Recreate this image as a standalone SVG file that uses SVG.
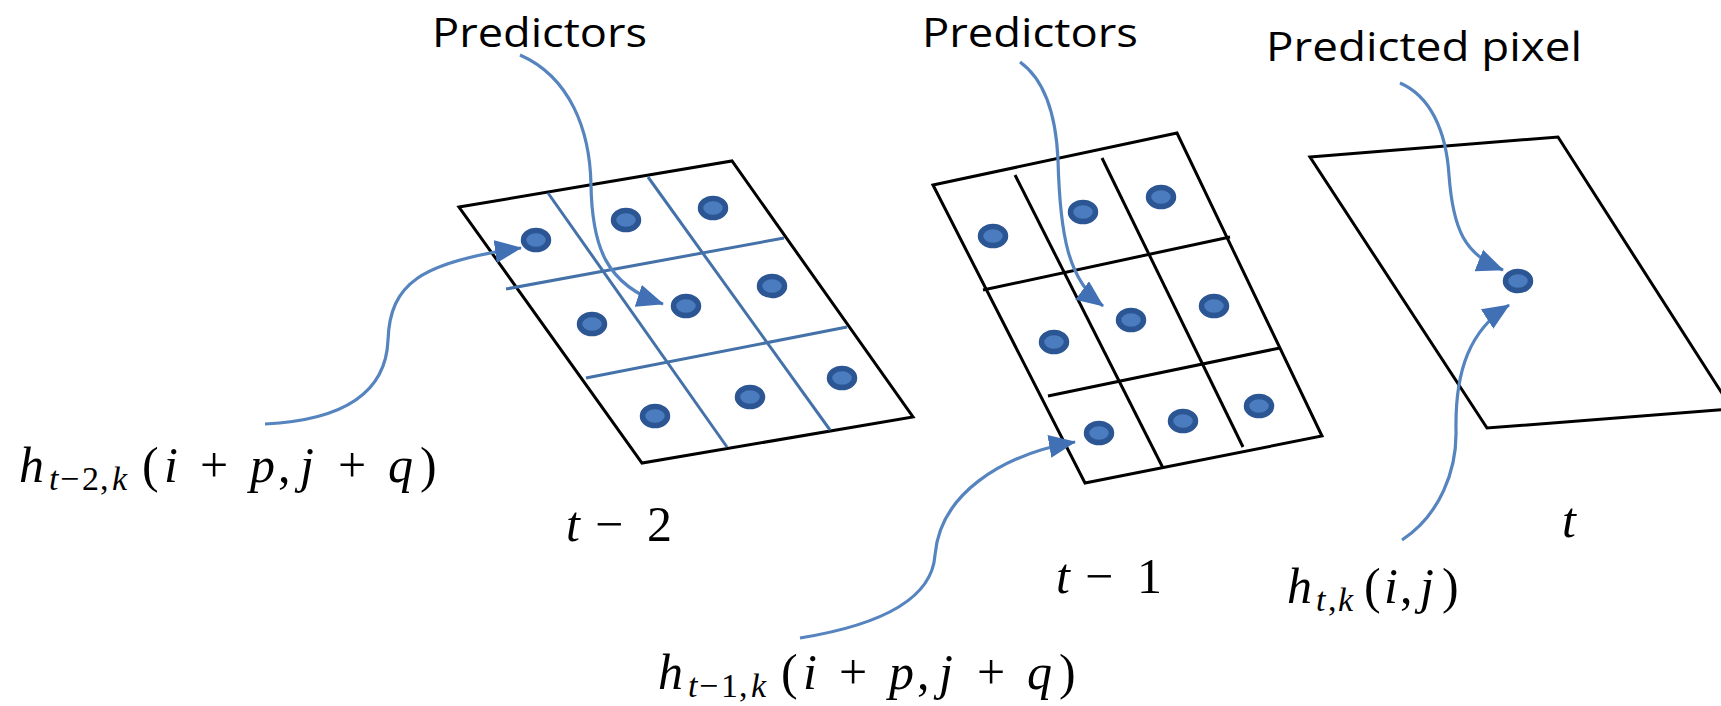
<svg xmlns="http://www.w3.org/2000/svg" width="1721" height="706" viewBox="0 0 1721 706">
<style>
.plane{fill:none;stroke:#000;stroke-width:3;stroke-linejoin:miter}
.gb{stroke:#4472A8;stroke-width:3;fill:none}
.gk{stroke:#000;stroke-width:3;fill:none}
.dot{fill:#4A7CBF;stroke:#2C5693;stroke-width:5.5}
.arr{fill:none;stroke:#5584BE;stroke-width:3.2;marker-end:url(#ah)}
.lbl{font-family:"Open Sans","Noto Sans",sans-serif;font-size:40px;fill:#000}
.m{font-family:"Liberation Serif",serif;font-size:50px;fill:#000}
.i{font-style:italic}
.s{font-size:34px}
</style>
<defs>
<marker id="ah" markerWidth="27" markerHeight="23" refX="26" refY="11.5" orient="auto" markerUnits="userSpaceOnUse">
<path d="M0,0 L27,11.5 L0,23 Z" fill="#4170B4"/>
</marker>
</defs>
<rect width="1721" height="706" fill="#fff"/>

<g id="plane-t-2">
<polygon class="plane" points="459,207 732,161 913,417 642,463"/>
<line class="gb" x1="548" y1="193" x2="727" y2="447"/>
<line class="gb" x1="648" y1="177" x2="830" y2="430"/>
<line class="gb" x1="506" y1="289" x2="784" y2="238"/>
<line class="gb" x1="586" y1="378" x2="847" y2="327"/>
<ellipse class="dot" cx="536" cy="240" rx="12.5" ry="9.5"/>
<ellipse class="dot" cx="626" cy="220" rx="12.5" ry="9.5"/>
<ellipse class="dot" cx="713" cy="208" rx="12.5" ry="9.5"/>
<ellipse class="dot" cx="592" cy="324" rx="12.5" ry="9.5"/>
<ellipse class="dot" cx="686" cy="306" rx="12.5" ry="9.5"/>
<ellipse class="dot" cx="772" cy="286" rx="12.5" ry="9.5"/>
<ellipse class="dot" cx="655" cy="416" rx="12.5" ry="9.5"/>
<ellipse class="dot" cx="750" cy="397" rx="12.5" ry="9.5"/>
<ellipse class="dot" cx="842" cy="378" rx="12.5" ry="9.5"/>
</g>

<g id="plane-t-1">
<polygon class="plane" points="933,185 1177,133 1322,436 1085,483"/>
<line class="gk" x1="1015" y1="175" x2="1163" y2="468"/>
<line class="gk" x1="1102" y1="158" x2="1243" y2="447"/>
<line class="gk" x1="983" y1="290" x2="1230" y2="237"/>
<line class="gk" x1="1048" y1="396" x2="1280" y2="348"/>
<ellipse class="dot" cx="993" cy="236" rx="12.5" ry="9.5"/>
<ellipse class="dot" cx="1083" cy="212" rx="12.5" ry="9.5"/>
<ellipse class="dot" cx="1161" cy="197" rx="12.5" ry="9.5"/>
<ellipse class="dot" cx="1054" cy="342" rx="12.5" ry="9.5"/>
<ellipse class="dot" cx="1131" cy="320" rx="12.5" ry="9.5"/>
<ellipse class="dot" cx="1214" cy="306" rx="12.5" ry="9.5"/>
<ellipse class="dot" cx="1099" cy="433" rx="12.5" ry="9.5"/>
<ellipse class="dot" cx="1183" cy="421" rx="12.5" ry="9.5"/>
<ellipse class="dot" cx="1259" cy="406" rx="12.5" ry="9.5"/>
</g>

<g id="plane-t">
<polygon class="plane" points="1310,157 1558,137 1732,409 1487,428"/>
<ellipse class="dot" cx="1518" cy="281" rx="12.5" ry="9.5"/>
</g>

<g id="connectors">
<path class="arr" d="M520,55 C570,77 590,130 591,185 C592,245 605,285 663,304"/>
<path class="arr" d="M265,424 C345,420 386,392 388,340 C390,284 420,262 521,248"/>
<path class="arr" d="M1020,62 C1045,80 1056,115 1058,160 C1060,235 1068,280 1103,306"/>
<path class="arr" d="M800,638 C880,625 932,600 935,555 C940,495 1000,455 1075,442"/>
<path class="arr" d="M1400,83 C1430,96 1446,130 1449,175 C1453,230 1465,255 1503,270"/>
<path class="arr" d="M1402,540 C1440,515 1457,470 1456,430 C1455,370 1470,330 1509,305"/>
</g>

<g id="labels">
<text class="lbl" x="432" y="47" textLength="215" lengthAdjust="spacingAndGlyphs">Predictors</text>
<text class="lbl" x="922" y="47" textLength="216" lengthAdjust="spacingAndGlyphs">Predictors</text>
<text class="lbl" x="1266" y="61" textLength="316" lengthAdjust="spacingAndGlyphs">Predicted pixel</text>
</g>

<g id="math-h-t-2">
<text class="m"><tspan x="19" y="482" class="i">h</tspan><tspan x="49" y="490" class="s i">t</tspan><tspan x="60" y="490" class="s">−</tspan><tspan x="82" y="490" class="s">2</tspan><tspan x="100" y="490" class="s">,</tspan><tspan x="112" y="490" class="s i">k</tspan><tspan x="142" y="482">(</tspan><tspan x="164" y="482" class="i">i</tspan><tspan x="200" y="482">+</tspan><tspan x="250" y="482" class="i">p</tspan><tspan x="278" y="482">,</tspan><tspan x="300" y="482" class="i">j</tspan><tspan x="338" y="482">+</tspan><tspan x="388" y="482" class="i">q</tspan><tspan x="420" y="482">)</tspan></text>
</g>

<g id="math-h-t-1">
<text class="m"><tspan x="658" y="689" class="i">h</tspan><tspan x="688" y="697" class="s i">t</tspan><tspan x="699" y="697" class="s">−</tspan><tspan x="721" y="697" class="s">1</tspan><tspan x="739" y="697" class="s">,</tspan><tspan x="751" y="697" class="s i">k</tspan><tspan x="781" y="689">(</tspan><tspan x="803" y="689" class="i">i</tspan><tspan x="839" y="689">+</tspan><tspan x="889" y="689" class="i">p</tspan><tspan x="917" y="689">,</tspan><tspan x="939" y="689" class="i">j</tspan><tspan x="977" y="689">+</tspan><tspan x="1027" y="689" class="i">q</tspan><tspan x="1059" y="689">)</tspan></text>
</g>

<g id="math-h-t">
<text class="m"><tspan x="1287" y="603" class="i">h</tspan><tspan x="1316" y="611" class="s i">t</tspan><tspan x="1328" y="611" class="s">,</tspan><tspan x="1338" y="611" class="s i">k</tspan><tspan x="1364" y="603">(</tspan><tspan x="1384" y="603" class="i">i</tspan><tspan x="1400" y="603">,</tspan><tspan x="1420" y="603" class="i">j</tspan><tspan x="1442" y="603">)</tspan></text>
</g>

<g id="time-labels">
<text class="m"><tspan x="566" y="541" class="i">t</tspan><tspan x="595" y="541">−</tspan><tspan x="647" y="541">2</tspan></text>
<text class="m"><tspan x="1056" y="593" class="i">t</tspan><tspan x="1085" y="593">−</tspan><tspan x="1137" y="593">1</tspan></text>
<text class="m"><tspan x="1562" y="537" class="i">t</tspan></text>
</g>
</svg>
